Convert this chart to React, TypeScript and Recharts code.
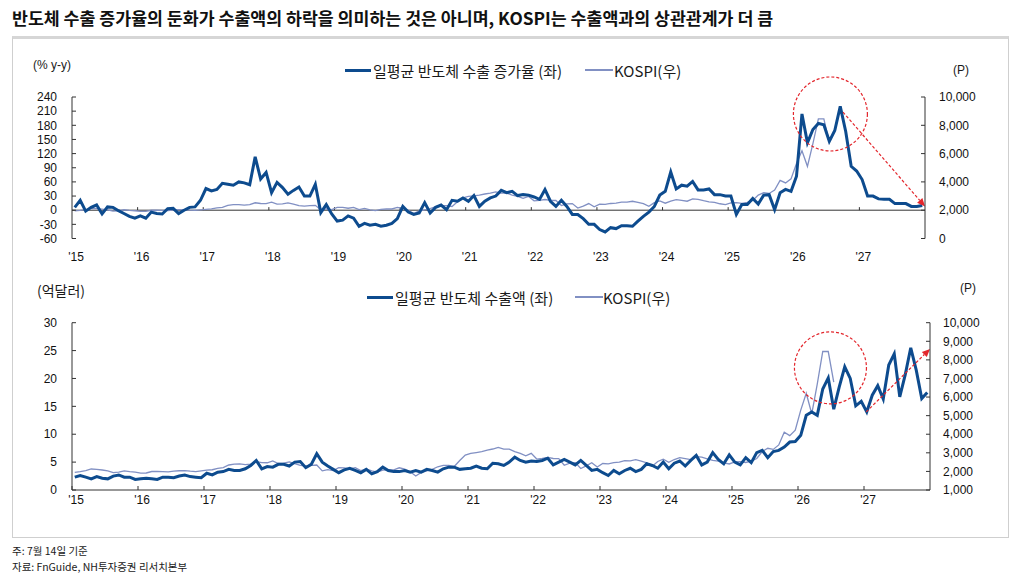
import React from 'react';
import { LineChart, Line, XAxis, YAxis, ReferenceLine, ReferenceDot } from 'recharts';

// x axis: monthly points, one label per year
const yearLabels = ["'15", "'16", "'17", "'18", "'19", "'20", "'21", "'22", "'23", "'24", "'25", "'26", "'27"];

// 일평균 반도체 수출 증가율 (% y-y), monthly
const chipGrowth = [
  6, 21, -2, 6, 11, -8, 7, 6, -1, -7, -13, -17,
  -12, -17, -4, -7, -8, 3, 4, -7, 0, 6, 7, 21,
  46, 41, 44, 57, 55, 53, 60, 58, 54, 113, 66, 80,
  37, 59, 48, 34, 42, 49, 30, 30, 55, -5, 12, -8,
  -23, -21, -12, -17, -34, -28, -32, -30, -34, -32, -28, -18,
  8, -4, -9, -6, 16, -6, 6, 11, 1, 21, 19, 26,
  19, 31, 8, 19, 26, 30, 42, 37, 40, 31, 33, 32,
  28, 23, 44, 19, 8, 21, 8, -9, -9, -18, -30, -30,
  -41, -46, -37, -39, -33, -33, -34, -23, -13, -4, 8, 32,
  40, 81, 45, 53, 51, 61, 43, 43, 45, 33, 33, 30,
  30, -9, 12, 12, 25, 13, 32, 33, 1, 37, 44, 40,
  72, 204, 143, 171, 184, 181, 146, 169, 220, 167, 93, 83,
  65, 30, 30, 24, 23, 23, 14, 14, 14, 8, 8, 10,
];

// 일평균 반도체 수출액 (억달러), monthly
const chipExports = [
  2.3, 2.6, 2.3, 2.0, 2.4, 2.1, 2.0, 2.5, 2.7, 2.3, 2.3, 1.9,
  2.0, 2.1, 2.0, 1.9, 2.3, 2.3, 2.2, 2.5, 2.7, 2.4, 2.3, 2.2,
  3.0, 2.7, 3.2, 3.3, 3.7, 3.5, 3.5, 3.8, 4.4, 5.3, 3.8, 4.2,
  4.1, 4.6, 4.6, 4.3, 5.0, 5.1, 4.0, 4.6, 6.5, 5.0, 4.3, 3.7,
  3.1, 3.6, 3.9, 3.5, 3.1, 3.7, 2.9, 3.3, 4.1, 3.5, 3.3, 3.3,
  3.5, 3.2, 3.5, 3.2, 3.7, 3.5, 3.2, 3.8, 4.1, 4.1, 3.7, 3.8,
  3.9, 4.3, 3.9, 3.8, 4.8, 4.7, 4.4, 5.0, 5.9, 5.3, 5.0, 5.2,
  5.1, 5.3, 5.7, 4.5, 5.0, 5.5, 5.0, 4.5, 5.3, 4.4, 3.5, 3.7,
  3.1, 2.6, 3.5, 2.9, 3.5, 3.9, 3.3, 3.7, 4.7, 4.4, 3.9, 5.0,
  3.8, 4.8, 5.2, 4.3, 5.3, 6.2, 4.5, 5.0, 6.7, 5.5, 4.7, 6.3,
  5.0, 4.5, 5.8, 4.9, 6.7, 7.1, 5.8, 6.9, 7.1, 7.7, 8.6, 8.7,
  9.8, 13.4, 14.0, 13.4, 18.1, 20.1, 14.5, 18.5, 22.1, 20.0, 15.1, 15.9,
  14.0, 17.0, 18.7, 16.3, 22.4, 24.4, 16.7, 20.7, 25.5, 21.5, 16.4, 17.5,
];

// KOSPI (P), monthly, ends mid '26
const kospi = [
  1950, 1985, 2040, 2130, 2115, 2075, 2030, 1940, 1960, 2030, 1990, 1960,
  1910, 1915, 1995, 1995, 1985, 1970, 2015, 2035, 2045, 2010, 1985, 2025,
  2065, 2090, 2160, 2205, 2345, 2390, 2400, 2365, 2395, 2525, 2475, 2465,
  2565, 2425, 2445, 2515, 2425, 2325, 2295, 2320, 2345, 2030, 2095, 2040,
  2205, 2195, 2140, 2205, 2040, 2130, 2025, 1965, 2065, 2085, 2085, 2195,
  2120, 1985, 1755, 1945, 2030, 2110, 2250, 2325, 2325, 2265, 2590, 2875,
  2975, 3015, 3060, 3145, 3205, 3295, 3200, 3200, 3070, 2970, 2840, 2975,
  2665, 2700, 2755, 2695, 2685, 2330, 2450, 2470, 2155, 2295, 2470, 2235,
  2425, 2410, 2475, 2500, 2575, 2565, 2630, 2555, 2465, 2275, 2535, 2655,
  2495, 2640, 2745, 2690, 2635, 2795, 2770, 2675, 2595, 2555, 2455, 2400,
  2515, 2530, 2480, 2555, 2695, 3070, 3245, 3185, 3425, 4105, 3925, 4215,
  5300, 6200, 5100, 6700, 8450, 8450, 6800,
];

const growthTicks = [-60, -30, 0, 30, 60, 90, 120, 150, 180, 210, 240];
const kospiTicksTop = [0, 2000, 4000, 6000, 8000, 10000];
const exportTicks = [0, 5, 10, 15, 20, 25, 30];
const kospiTicksBottom = [1000, 2000, 3000, 4000, 5000, 6000, 7000, 8000, 9000, 10000];

// red annotations, in data units (x = month index, y = left axis)
const topCircle = { x: 138.7, y: 204 };
const topArrow = [{ x: 141, y: 208 }, { x: 156, y: 8 }];
const bottomCircle = { x: 137.9, y: 21.9 };
const bottomArrow = [{ x: 144.4, y: 14 }, { x: 156, y: 25.3 }];

const BLUE = '#0d4b8e';
const LIGHT = '#8190c3';
const RED = '#e3262c';
const AXIS = '#333333';
const NUM_FONT = "'Liberation Sans', Arial, sans-serif";
const KR_FONT = "'Noto Sans CJK KR', 'Noto Sans', sans-serif";

const monthTicks = yearLabels.map((_, k) => k * 12);
const fmtYear = (v: number) => yearLabels[Math.round(v / 12)] ?? '';
const fmtThousands = (v: number) => v.toLocaleString('en-US');

const topRows = chipGrowth.map((g, i) => ({
  x: i + 0.5,
  growth: g,
  kospi: i < kospi.length ? kospi[i] : null,
}));
const bottomRows = chipExports.map((e, i) => ({
  x: i + 0.5,
  exports: e,
  kospi: i < kospi.length ? kospi[i] : null,
}));

const numTick = { fontSize: 12, fill: '#111', fontFamily: NUM_FONT };

const ArrowShape = (p: any) => {
  const { x1, y1, x2, y2 } = p;
  const a = Math.atan2(y2 - y1, x2 - x1);
  const len = 8;
  const half = 3.5;
  const bx = x2 - len * Math.cos(a);
  const by = y2 - len * Math.sin(a);
  const pts = `${x2},${y2} ${bx - half * Math.sin(a)},${by + half * Math.cos(a)} ${bx + half * Math.sin(a)},${by - half * Math.cos(a)}`;
  return (
    <g>
      <line x1={x1} y1={y1} x2={bx} y2={by} stroke={RED} strokeWidth={1.2} strokeDasharray="3 2" />
      <polygon points={pts} fill={RED} />
    </g>
  );
};

const Swatch = ({ left, top, width, color, thick }: any) => (
  <div style={{ position: 'absolute', left, top: top - thick / 2, width, height: thick, background: color }} />
);

const Txt = ({ left, top, size = 15, font = KR_FONT, children }: any) => (
  <div
    style={{
      position: 'absolute', left, top, transform: 'translateY(-50%)', fontSize: size, lineHeight: 1,
      fontFamily: font, color: '#1a1a1a', whiteSpace: 'nowrap',
    }}
  >
    {children}
  </div>
);

export default function App() {
  return (
    <div style={{ position: 'absolute', left: 0, top: 0, width: 1022, height: 578, background: '#fff', overflow: 'hidden' }}>
      <div
        style={{
          position: 'absolute', left: 12, top: 5, fontSize: 17.3, fontWeight: 700, fontFamily: KR_FONT,
          color: '#111', whiteSpace: 'nowrap', lineHeight: '25px',
        }}
      >
        반도체 수출 증가율의 둔화가 수출액의 하락을 의미하는 것은 아니며, KOSPI는 수출액과의 상관관계가 더 큼
      </div>

      <div
        style={{
          position: 'absolute', left: 12, top: 36, width: 995, height: 498,
          borderLeft: '1px solid #cfcfcf', borderRight: '1px solid #cfcfcf', borderBottom: '1px solid #cfcfcf',
          borderTop: '3px solid #d6d6d6',
        }}
      />

      {/* top panel labels */}
      <Txt left={33} top={65} size={12} font={NUM_FONT}>(% y-y)</Txt>
      <Swatch left={345} top={70} width={26} color={BLUE} thick={3} />
      <Txt left={373} top={70}>일평균 반도체 수출 증가율 (좌)</Txt>
      <Swatch left={585} top={70} width={28} color={LIGHT} thick={1.3} />
      <Txt left={614} top={70}>KOSPI(우)</Txt>
      <Txt left={953} top={70} size={12} font={NUM_FONT}>(P)</Txt>

      <div style={{ position: 'absolute', left: 0, top: 0 }}>
        <LineChart width={1022} height={270} data={topRows} margin={{ top: 97, right: 37, left: 12, bottom: 1.5 }}>
          <XAxis
            type="number"
            dataKey="x"
            domain={[0, 156]}
            ticks={monthTicks}
            interval={0}
            tickFormatter={fmtYear}
            axisLine={false}
            tickLine={false}
            tickSize={0}
            tickMargin={14}
            tick={{ ...numTick, dx: 4 }}
            height={30}
          />
          <YAxis
            yAxisId="L"
            domain={[-60, 240]}
            ticks={growthTicks}
            interval={0}
            width={60}
            tickSize={-4}
            tickMargin={19}
            tick={numTick}
            stroke={AXIS}
          />
          <YAxis
            yAxisId="R"
            orientation="right"
            domain={[0, 10000]}
            ticks={kospiTicksTop}
            interval={0}
            tickFormatter={fmtThousands}
            width={60}
            tickSize={-4}
            tickMargin={18}
            tick={{ ...numTick, textAnchor: 'start' }}
            stroke={AXIS}
          />
          <ReferenceLine yAxisId="L" y={0} stroke={AXIS} strokeWidth={1} />
          {monthTicks.slice(1).map((t) => (
            <ReferenceLine
              key={t}
              yAxisId="L"
              segment={[{ x: t, y: 0 }, { x: t, y: 6.5 }]}
              stroke={AXIS}
              strokeWidth={1}
            />
          ))}
          <Line yAxisId="R" dataKey="kospi" stroke={LIGHT} strokeWidth={1.3} dot={false} isAnimationActive={false} connectNulls={false} />
          <Line yAxisId="L" dataKey="growth" stroke={BLUE} strokeWidth={3} dot={false} isAnimationActive={false} />
          <ReferenceDot
            yAxisId="L"
            x={topCircle.x}
            y={topCircle.y}
            r={37}
            fill="none"
            stroke={RED}
            strokeWidth={1.2}
            strokeDasharray="3 2"
            ifOverflow="visible"
          />
          <ReferenceLine yAxisId="L" segment={topArrow} ifOverflow="visible" shape={ArrowShape} />
        </LineChart>
      </div>

      {/* bottom panel labels */}
      <Txt left={37} top={290} size={14}>(억달러)</Txt>
      <Swatch left={367} top={297} width={26} color={BLUE} thick={3} />
      <Txt left={395} top={297}>일평균 반도체 수출액 (좌)</Txt>
      <Swatch left={575} top={297} width={28} color={LIGHT} thick={1.3} />
      <Txt left={603} top={297}>KOSPI(우)</Txt>
      <Txt left={960} top={288} size={12} font={NUM_FONT}>(P)</Txt>

      <div style={{ position: 'absolute', left: 0, top: 280 }}>
        <LineChart width={1022} height={240} data={bottomRows} margin={{ top: 42.7, right: 32, left: 12, bottom: 0 }}>
          <XAxis
            type="number"
            dataKey="x"
            domain={[0, 156]}
            ticks={monthTicks}
            interval={0}
            tickFormatter={fmtYear}
            tickSize={-4}
            tickMargin={9}
            tick={{ ...numTick, dx: 4 }}
            stroke={AXIS}
            height={30}
          />
          <YAxis
            yAxisId="L"
            domain={[0, 30]}
            ticks={exportTicks}
            interval={0}
            width={60}
            tickSize={-4}
            tickMargin={19}
            tick={numTick}
            stroke={AXIS}
          />
          <YAxis
            yAxisId="R"
            orientation="right"
            domain={[1000, 10000]}
            ticks={kospiTicksBottom}
            interval={0}
            tickFormatter={fmtThousands}
            width={60}
            tickSize={-4}
            tickMargin={17}
            tick={{ ...numTick, textAnchor: 'start' }}
            stroke={AXIS}
          />
          <Line yAxisId="R" dataKey="kospi" stroke={LIGHT} strokeWidth={1.3} dot={false} isAnimationActive={false} connectNulls={false} />
          <Line yAxisId="L" dataKey="exports" stroke={BLUE} strokeWidth={3} dot={false} isAnimationActive={false} />
          <ReferenceDot
            yAxisId="L"
            x={bottomCircle.x}
            y={bottomCircle.y}
            r={36}
            fill="none"
            stroke={RED}
            strokeWidth={1.2}
            strokeDasharray="3 2"
            ifOverflow="visible"
          />
          <ReferenceLine yAxisId="L" segment={bottomArrow} ifOverflow="visible" shape={ArrowShape} />
        </LineChart>
      </div>

      <Txt left={12} top={551} size={10.5}>주: 7월 14일 기준</Txt>
      <Txt left={12} top={567} size={10.5}>자료: FnGuide, NH투자증권 리서치본부</Txt>
    </div>
  );
}
